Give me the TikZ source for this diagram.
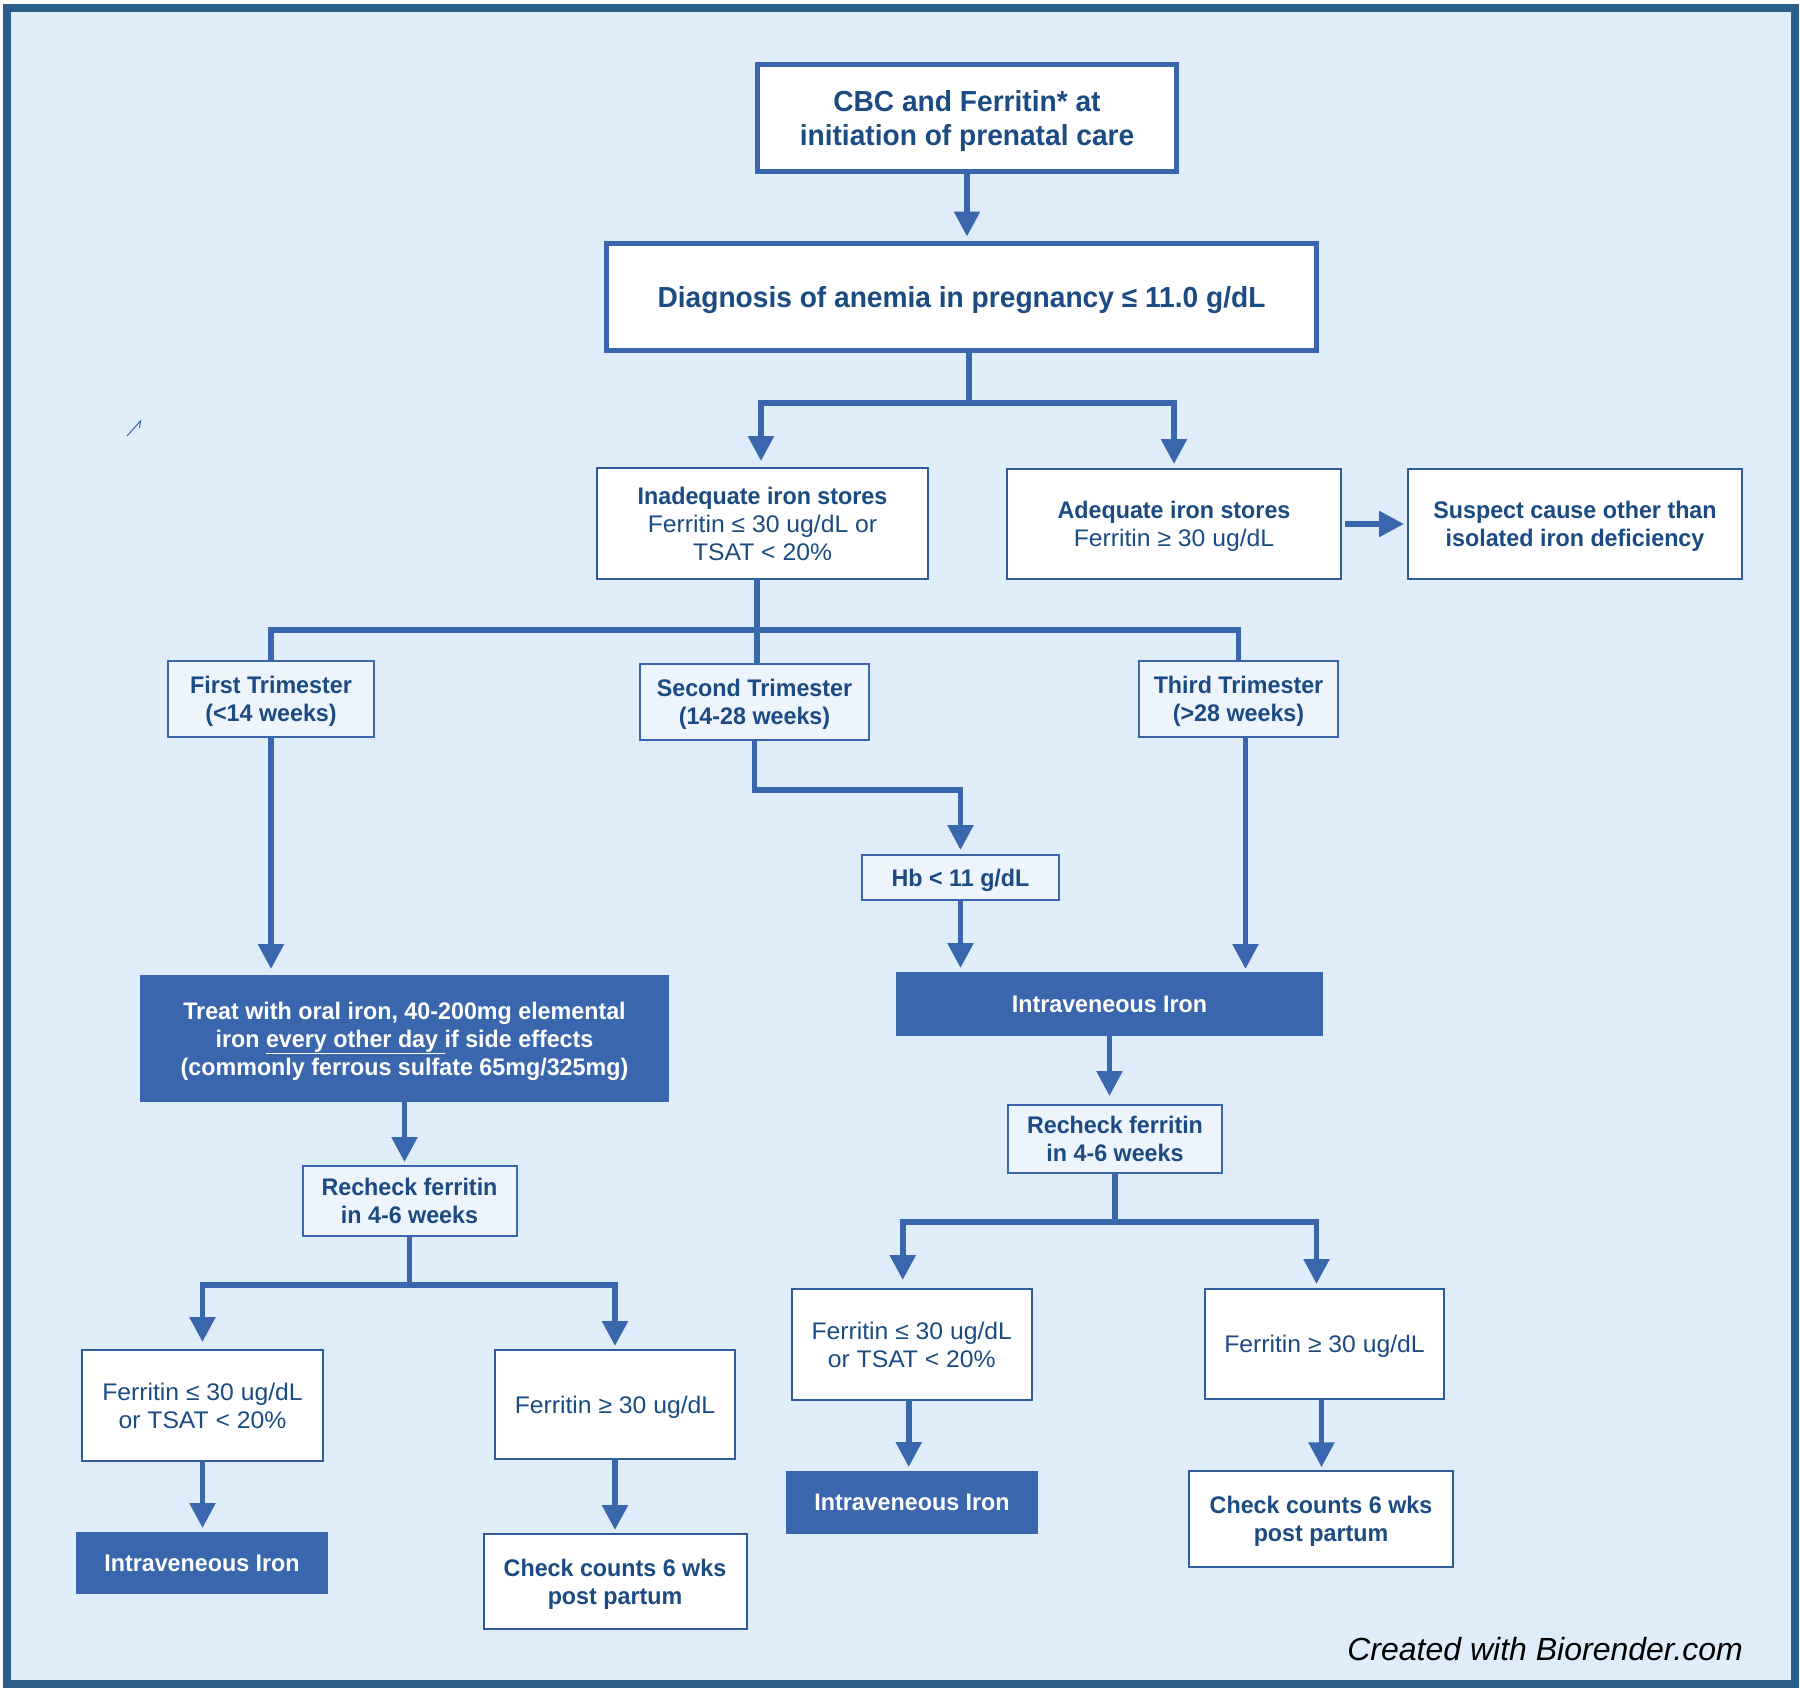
\documentclass[tikz,border=0pt]{standalone}
\usepackage{fontspec}
\setmainfont{Liberation Sans}[UprightFeatures={FakeStretch=1.03}, BoldFeatures={FakeStretch=0.97}]
\usetikzlibrary{arrows.meta}
\definecolor{bgc}{HTML}{DFECF9}
\definecolor{frm}{HTML}{2D5F8B}
\definecolor{blu}{HTML}{3A66AD}
\definecolor{bdr}{HTML}{2F5C9A}
\definecolor{txc}{HTML}{1A4B82}
\definecolor{lfill}{HTML}{EEF4FB}
\begin{document}
\begin{tikzpicture}[x=1pt,y=-1pt,
  bigbox/.style={draw=blu, line width=5pt, fill=white, text=txc, align=center, inner sep=0pt, outer sep=0pt,
     text depth=0pt, font=\bfseries\fontsize{29}{33.5}\selectfont},
  tbox/.style={draw=bdr, line width=2pt, fill=white, text=txc, align=center, inner sep=0pt, outer sep=0pt,
     text depth=0pt, font=\fontsize{24}{27.8}\selectfont},
  lbox/.style={tbox, draw=blu, fill=lfill, font=\bfseries\fontsize{24}{27.8}\selectfont},
  fbox/.style={draw=none, fill=blu, text=white, align=center, inner sep=0pt, outer sep=0pt,
     text depth=0pt, font=\bfseries\fontsize{24}{27.8}\selectfont},
  ln/.style={draw=blu, line width=5.5pt, line join=miter},
  arr/.style={ln, -{Triangle[width=25pt,length=25pt]}}
]
\useasboundingbox (0,0) rectangle (1800,1692);
\fill[white] (0,0) rectangle (1800,1692);
\draw[draw=frm, fill=bgc, line width=8pt] (7,8) rectangle (1795,1684);
\draw[blu, line width=1pt] (127,436) -- (140.5,421) -- (139.5,428);

% top boxes
\node[bigbox, minimum width=419pt, minimum height=107pt] (cbc) at (967,118) {CBC and Ferritin* at\\initiation of prenatal care};
\node[bigbox, minimum width=710pt, minimum height=107pt] (diag) at (961.5,297) {Diagnosis of anemia in pregnancy ≤ 11.0 g/dL};

\node[tbox, minimum width=331pt, minimum height=111pt] (inad) at (762.5,523.5) {\textbf{Inadequate iron stores}\\Ferritin ≤ 30 ug/dL or\\TSAT < 20\%};
\node[tbox, minimum width=334pt, minimum height=110pt] (adeq) at (1174,524) {\textbf{Adequate iron stores}\\Ferritin ≥ 30 ug/dL};
\node[tbox, font=\bfseries\fontsize{24}{27.8}\selectfont, minimum width=334pt, minimum height=110pt] (susp) at (1575,524) {Suspect cause other than\\isolated iron deficiency};

% trimesters
\node[lbox, minimum width=206pt, minimum height=76pt] (first) at (271,699) {First Trimester\\(<14 weeks)};
\node[lbox, minimum width=229pt, minimum height=76pt] (second) at (754.5,702) {Second Trimester\\(14-28 weeks)};
\node[lbox, minimum width=199pt, minimum height=76pt] (third) at (1238.5,699) {Third Trimester\\(>28 weeks)};
\node[lbox, minimum width=197pt, minimum height=45pt] (hb) at (960.5,877.5) {Hb < 11 g/dL};

\node[fbox, minimum width=427pt, minimum height=64pt] (iv1) at (1109.5,1004) {Intraveneous Iron};
\node[fbox, minimum width=529pt, minimum height=127pt] (treat) at (404.5,1038.5) {Treat with oral iron, 40-200mg elemental\\iron \underline{every other day\ }if side effects\\(commonly ferrous sulfate 65mg/325mg)};

% left branch
\node[lbox, minimum width=214pt, minimum height=69.5pt] (rc1) at (409.5,1200.75) {Recheck ferritin\\in 4-6 weeks};
\node[tbox, minimum width=241pt, minimum height=111pt] (f1a) at (202.5,1405.5) {Ferritin ≤ 30 ug/dL\\or TSAT < 20\%};
\node[tbox, minimum width=239.5pt, minimum height=109pt] (f1b) at (615,1404.5) {Ferritin ≥ 30 ug/dL};
\node[fbox, minimum width=252.5pt, minimum height=62pt] (iv2) at (202,1563) {Intraveneous Iron};
\node[tbox, font=\bfseries\fontsize{24}{27.8}\selectfont, minimum width=263pt, minimum height=95pt] (ck1) at (615,1581.5) {Check counts 6 wks\\post partum};

% right branch
\node[lbox, minimum width=213.5pt, minimum height=68pt] (rc2) at (1115,1139) {Recheck ferritin\\in 4-6 weeks};
\node[tbox, minimum width=239.5pt, minimum height=111pt] (f2a) at (911.75,1344.5) {Ferritin ≤ 30 ug/dL\\or TSAT < 20\%};
\node[tbox, minimum width=239pt, minimum height=110pt] (f2b) at (1324.5,1344) {Ferritin ≥ 30 ug/dL};
\node[fbox, minimum width=252pt, minimum height=63pt] (iv3) at (912,1502.5) {Intraveneous Iron};
\node[tbox, font=\bfseries\fontsize{24}{27.8}\selectfont, minimum width=263.5pt, minimum height=95.5pt] (ck2) at (1321,1519) {Check counts 6 wks\\post partum};

\node[anchor=base east, inner sep=0pt, font=\itshape\fontsize{32}{36}\selectfont, text=black] (credit) at (1743,1660) {Created with Biorender.com};

% connectors
\coordinate (j1) at (969,403);
\coordinate (b) at (757,630);
\coordinate (h2) at (0,790);
\coordinate (j2) at (410,1285);
\coordinate (j3) at (1111,1222);

\draw[arr, shorten >=7pt] (cbc.south) -- (cbc.south |- diag.north);
\draw[ln] (diag.south -| j1) -- (j1);
\draw[arr, shorten >=7pt] (j1) -| ([xshift=-1.5pt]inad.north);
\draw[arr, shorten >=5pt] (j1) -| (adeq.north);
\draw[arr, shorten <=4pt, shorten >=4pt] (adeq.east) -- (susp.west);

\draw[ln] (inad.south -| b) -- (second.north -| b);
\draw[ln] (first.north) |- (b) -| (third.north);

\draw[arr, shorten >=6pt] (first.south) -- (first.south |- treat.north);
\draw[arr, shorten >=5pt] (second.south) -- (second.south |- h2) -| (hb.north);
\draw[arr, shorten >=4pt] (hb.south) -- (hb.south |- iv1.north);
\draw[arr, shorten >=3pt] ([xshift=7pt]third.south) -- ([xshift=7pt]third.south |- iv1.north);

\draw[arr, shorten >=4pt] (treat.south) -- (treat.south |- rc1.north);
\draw[ln] (rc1.south) -- (rc1.south |- j2);
\draw[arr, shorten >=8pt] (rc1.south |- j2) -| (f1a.north);
\draw[arr, shorten >=4pt] (rc1.south |- j2) -| (f1b.north);
\draw[arr, shorten >=4pt] (f1a.south) -- (f1a.south |- iv2.north);
\draw[arr, shorten >=4pt] (f1b.south) -- (f1b.south |- ck1.north);

\draw[arr, shorten >=9pt] (iv1.south) -- (iv1.south |- rc2.north);
\draw[ln] (rc2.south) -- (rc2.south |- j3);
\draw[arr, shorten >=9pt] (rc2.south |- j3) -| ([xshift=-9pt]f2a.north);
\draw[arr, shorten >=5pt] (rc2.south |- j3) -| ([xshift=-8pt]f2b.north);
\draw[arr, shorten >=4pt] ([xshift=-3pt]f2a.south) -- ([xshift=-3pt]f2a.south |- iv3.north);
\draw[arr, shorten >=4pt] ([xshift=-3pt]f2b.south) -- ([xshift=-3pt]f2b.south |- ck2.north);
\end{tikzpicture}
\end{document}
